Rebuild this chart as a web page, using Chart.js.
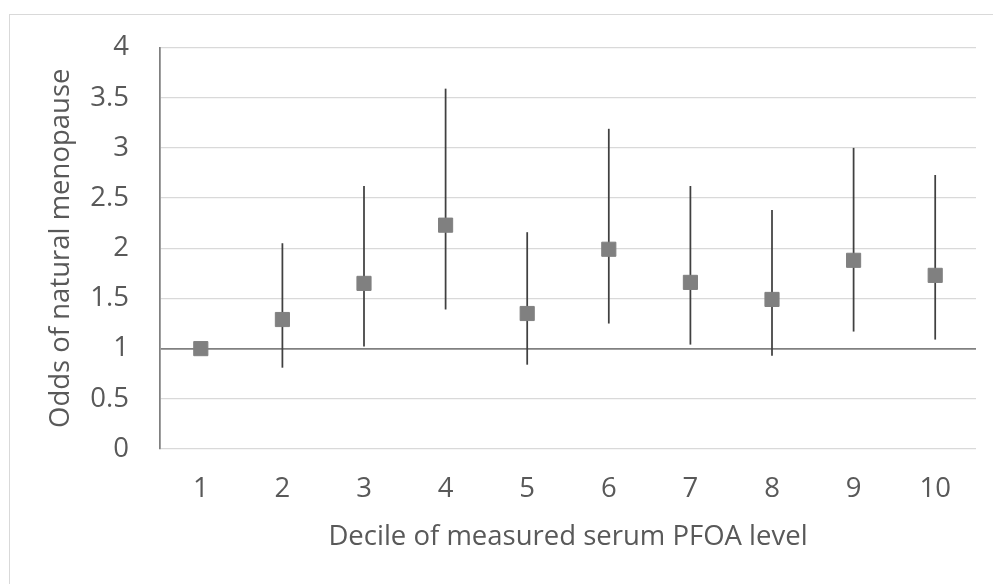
<!DOCTYPE html>
<html>
<head>
<meta charset="utf-8">
<script src="https://cdn.jsdelivr.net/npm/chart.js@4"></script>
<style>
  html, body { margin: 0; padding: 0; background: #fff; overflow: hidden; }
  .frame { position: absolute; left: 9px; top: 14px; width: 1000px; height: 620px; border: 1px solid #d9d9d9; }
  .wrap { position: absolute; left: 0; top: 0; width: 993px; height: 584px; }
</style>
</head>
<body>
<div class="frame"></div>
<div class="wrap"><canvas id="chart"></canvas></div>
<script>
// deciles of measured serum PFOA
const deciles = ['1', '2', '3', '4', '5', '6', '7', '8', '9', '10'];
// odds ratios and confidence limits (decile 1 is the reference)
const oddsRatio = [1.0, 1.29, 1.65, 2.23, 1.35, 1.99, 1.66, 1.49, 1.88, 1.73];
const lowerCI = [null, 0.81, 1.02, 1.39, 0.84, 1.25, 1.04, 0.93, 1.17, 1.09];
const upperCI = [null, 2.05, 2.62, 3.59, 2.16, 3.19, 2.62, 2.38, 3.00, 2.73];
const yTicks = [0, 0.5, 1, 1.5, 2, 2.5, 3, 3.5, 4];

const FONT = 'Open Sans';
const SIZE = 27.5;
const TEXT = '#595959';

// vertical error bars, drawn under the markers
const errorBars = {
  id: 'errorBars',
  beforeDatasetsDraw(chart) {
    const { ctx, scales: { x, y } } = chart;
    ctx.save();
    ctx.strokeStyle = '#404040';
    ctx.lineWidth = 1.75;
    deciles.forEach((d, i) => {
      if (lowerCI[i] == null) return;
      const px = x.getPixelForValue(i);
      ctx.beginPath();
      ctx.moveTo(px, y.getPixelForValue(lowerCI[i]));
      ctx.lineTo(px, y.getPixelForValue(upperCI[i]));
      ctx.stroke();
    });
    ctx.restore();
  },
};

new Chart(document.getElementById('chart'), {
  type: 'line',
  data: {
    labels: deciles,
    datasets: [{
      data: oddsRatio,
      showLine: false,
      pointStyle: 'rect',
      pointRadius: 10,
      pointHoverRadius: 10,
      pointBackgroundColor: '#808080',
      pointBorderColor: '#808080',
      pointBorderWidth: 1,
    }],
  },
  options: {
    responsive: true,
    maintainAspectRatio: false,
    animation: false,
    layout: { padding: { top: 46, right: 17, bottom: 0, left: 0 } },
    plugins: { legend: { display: false }, tooltip: { enabled: false } },
    scales: {
      x: {
        offset: true,
        grid: { display: false, drawTicks: false },
        border: { display: false },
        ticks: { color: TEXT, font: { family: FONT, size: SIZE }, padding: 24 },
        title: {
          display: true,
          text: 'Decile of measured serum PFOA level',
          color: TEXT,
          font: { family: FONT, size: SIZE },
          padding: { top: 0, bottom: 30 },
        },
        afterFit: (scale) => { scale.height = 135; },
      },
      y: {
        min: 0,
        max: 4,
        afterBuildTicks: (scale) => { scale.ticks = yTicks.map((v) => ({ value: v })); },
        grid: {
          drawTicks: false,
          color: (c) => (c.tick && c.tick.value === 1 ? '#808080' : '#d9d9d9'),
          lineWidth: (c) => (c.tick && c.tick.value === 1 ? 1.75 : 1.25),
        },
        border: { display: true, color: '#808080', width: 1.75 },
        ticks: {
          color: TEXT,
          font: { family: FONT, size: SIZE },
          padding: 31,
          callback: (v) => String(v),
        },
        title: {
          display: true,
          text: 'Odds of natural menopause',
          color: TEXT,
          font: { family: FONT, size: SIZE },
          padding: { top: 45, bottom: 0 },
        },
        afterFit: (scale) => { scale.width = 160; },
      },
    },
  },
  plugins: [errorBars],
});
</script>
</body>
</html>
